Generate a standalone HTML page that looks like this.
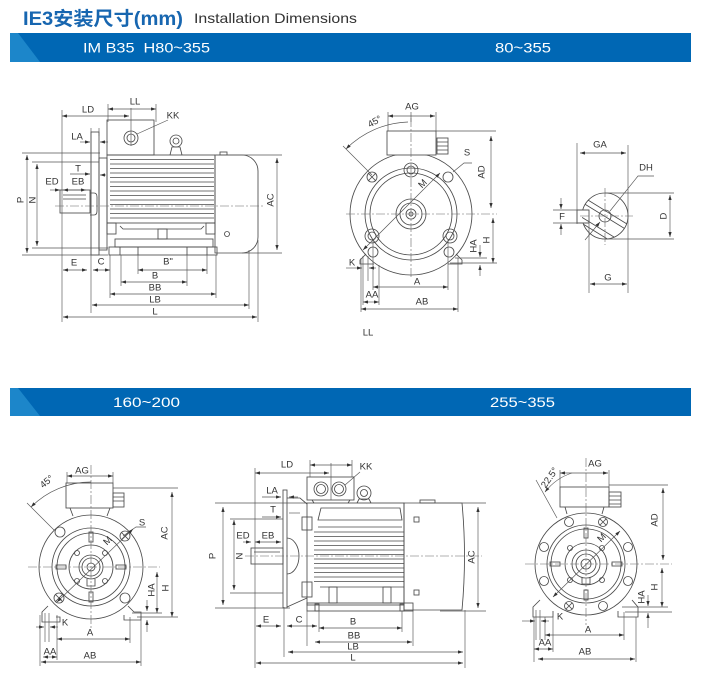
<!DOCTYPE html>
<html><head><meta charset="utf-8">
<style>
html,body{margin:0;padding:0;background:#fff;}
svg{display:block;}
.o{fill:none;stroke:#4a4a4a;stroke-width:.85}
.d{fill:none;stroke:#555;stroke-width:.65}
.b{fill:none;stroke:#555;stroke-width:.65;marker-start:url(#a);marker-end:url(#a)}
.e{fill:none;stroke:#555;stroke-width:.65;marker-end:url(#a)}
.c{fill:none;stroke:#666;stroke-width:.6;stroke-dasharray:9 2 2 2}
.t{font-family:"Liberation Sans",sans-serif;font-size:9.5px;fill:#333;text-anchor:middle;dominant-baseline:central}
</style></head><body>
<svg width="701" height="675" viewBox="0 0 701 675" xmlns="http://www.w3.org/2000/svg">
<defs>
<marker id="a" viewBox="0 0 6 4" refX="6" refY="2" markerWidth="5" markerHeight="3.4" markerUnits="userSpaceOnUse" orient="auto-start-reverse"><path d="M0,0L6,2L0,4z" fill="#333"/></marker>
<clipPath id="cp"><circle cx="605" cy="216" r="23"/></clipPath>
</defs>

<!-- Header -->
<text x="23" y="25" font-family="Liberation Sans, Noto Sans CJK SC, sans-serif" font-size="19" font-weight="bold" fill="#1766b0" textLength="160" lengthAdjust="spacingAndGlyphs">IE3安装尺寸(mm)</text>
<text x="194" y="23" font-family="Liberation Sans, sans-serif" font-size="14" fill="#333" textLength="163" lengthAdjust="spacingAndGlyphs">Installation Dimensions</text>

<rect x="10" y="33" width="681" height="29" fill="#0067b4"/>
<polygon points="10,33 18,33 40,62 10,62" fill="#1c86ca"/>
<text x="83" y="52.5" xml:space="preserve" font-family="Liberation Sans, sans-serif" font-size="13.5" fill="#fff" textLength="127" lengthAdjust="spacingAndGlyphs">IM B35  H80~355</text>
<text x="495" y="52.5" font-family="Liberation Sans, sans-serif" font-size="13.5" fill="#fff" textLength="56" lengthAdjust="spacingAndGlyphs">80~355</text>

<rect x="10" y="388" width="681" height="28" fill="#0067b4"/>
<polygon points="10,388 18,388 40,416 10,416" fill="#1c86ca"/>
<text x="113" y="407" font-family="Liberation Sans, sans-serif" font-size="13.5" fill="#fff" textLength="67" lengthAdjust="spacingAndGlyphs">160~200</text>
<text x="490" y="407" font-family="Liberation Sans, sans-serif" font-size="13.5" fill="#fff" textLength="65" lengthAdjust="spacingAndGlyphs">255~355</text>

<!-- ================= Drawing 1: side view ================= -->
<g class="o">
<rect x="107" y="120" width="47" height="35"/>
<circle cx="131" cy="138" r="7"/><circle cx="131" cy="138" r="4"/>
<circle cx="176" cy="141" r="6"/><circle cx="176" cy="141" r="3"/>
<path d="M170,155 L172,147 H180 L182,155"/>
<rect x="107" y="155" width="108" height="68"/>
<path d="M110,159.5H214 M110,164H214 M110,168.5H214 M110,173H214 M110,177.5H214 M110,182H214 M110,186.5H214 M110,191H214 M110,195.5H214 M110,200H214 M110,204.5H214 M110,209H214 M110,213.5H214 M110,218H214"/>
<path d="M215,155 H242 A16,16 0 0 1 258,171 V237 A16,16 0 0 1 242,253 H215 Z"/>
<circle cx="227" cy="234" r="2.5"/>
<rect x="220" y="152" width="7" height="3"/>
<rect x="91" y="132" width="8" height="123"/>
<rect x="99" y="158" width="8" height="92"/>
<rect x="60" y="190" width="30" height="23"/>
<path d="M63,195H86 M63,199H86"/>
<path d="M90,193 h4 q3,0 3,4 v14 q0,4 -3,4 h-4"/>
<rect x="107" y="223" width="9" height="11"/>
<rect x="206" y="223" width="9" height="11"/>
<path d="M120,226 L123,229 H201 L204,226"/>
<rect x="158" y="229" width="9" height="10"/>
<rect x="115" y="239" width="98" height="8"/>
<rect x="109" y="247" width="108" height="8"/>
<path d="M120,247V255 M138,247V255 M187,247V255 M207,247V255"/>
</g>
<path class="c" d="M55,206H264"/>
<g>
<path class="b" d="M108,109H156"/>
<path class="b" d="M62,116H129"/>
<path class="d" d="M108,104V122 M156,104V122 M131,108V146 M62,110V322 M91,128V313 M99,128V136"/>
<path class="d" d="M168,120 L137,134"/>
<path class="e" d="M80,142H90"/>
<path class="e" d="M108,142H100"/>
<path class="e" d="M70,174H90"/>
<path class="e" d="M106,175H100"/>
<path class="e" d="M50,190H60"/>
<path class="b" d="M63,190H86"/>
<path class="b" d="M27,155V253"/>
<path class="b" d="M37,164V246"/>
<path class="d" d="M22,153H100 M22,255H108 M32,162H99 M32,248H108"/>
<path class="b" d="M277,158V250"/>
<path class="d" d="M216,155H282 M242,253H282"/>
<path class="b" d="M63,270H87"/>
<path class="b" d="M93,270H110"/>
<path class="b" d="M138,270H207"/>
<path class="b" d="M121,282H187"/>
<path class="b" d="M110,294H216"/>
<path class="b" d="M92,305H249"/>
<path class="b" d="M63,317H257"/>
<path class="d" d="M110,255V298 M121,255V286 M138,255V274 M187,255V286 M207,255V274 M216,255V298 M249,250V309 M258,240V322"/>
</g>
<g class="t">
<text x="135" y="102">LL</text>
<text x="88" y="110">LD</text>
<text x="173" y="116">KK</text>
<text x="77" y="137">LA</text>
<text x="78" y="169">T</text>
<text x="52" y="182">ED</text>
<text x="78" y="182">EB</text>
<text x="21" y="200" transform="rotate(-90 21 200)">P</text>
<text x="33" y="200" transform="rotate(-90 33 200)">N</text>
<text x="271" y="200" transform="rotate(-90 271 200)">AC</text>
<text x="74" y="263">E</text>
<text x="101" y="262">C</text>
<text x="168" y="262">B"</text>
<text x="155" y="276">B</text>
<text x="155" y="288">BB</text>
<text x="155" y="300">LB</text>
<text x="155" y="312">L</text>
</g>

<!-- ================= Drawing 2: front view 80~355 ================= -->
<g class="o">
<circle cx="411" cy="214" r="61"/>
<circle cx="411" cy="214" r="46"/>
<circle cx="411" cy="214" r="41"/>
<circle cx="411" cy="214" r="15"/>
<circle cx="411" cy="214" r="11"/>
<circle cx="411" cy="214" r="5"/>
<circle cx="411" cy="214" r="2"/>
<circle cx="411" cy="170" r="7"/><circle cx="411" cy="170" r="4"/>
<circle cx="372" cy="236" r="7"/><circle cx="372" cy="236" r="4"/>
<circle cx="450" cy="236" r="7"/><circle cx="450" cy="236" r="4"/>
<circle cx="448" cy="177" r="5"/>
<circle cx="373" cy="252" r="5"/>
<circle cx="449" cy="252" r="5"/>
<circle cx="372" cy="177" r="5"/>
<path d="M368,173 L376,181 M376,173 L368,181"/>
<rect x="387" y="131" width="49" height="24" fill="#fff"/>
<rect x="437" y="138" width="11" height="16"/>
<path d="M437,142H448 M437,146H448 M437,150H448"/>
<path d="M366,254 L360,260 V264 H374"/>
<path d="M456,254 L462,260 V264 H448"/>
</g>
<path class="c" d="M346,214H497 M411,118V278"/>
<g>
<path class="b" d="M388,116H435"/>
<path class="d" d="M388,112V131 M436,112V131 M411,112V122 M436,131H496"/>
<path class="e" d="M408,122 A92,92 0 0 0 346,149"/>
<path class="d" d="M343,146 L372,175"/>
<path class="b" d="M491,136V208"/>
<path class="b" d="M493,218V263"/>
<path class="e" d="M480,245V257"/>
<path class="e" d="M480,276V265"/>
<path class="d" d="M455,258H487 M450,263H497"/>
<path class="d" d="M453,172 L464,163 H472"/>
<path class="b" d="M363,250 L440,173"/>
<path class="d" d="M363,256V281 M368,256V281"/>
<path class="e" d="M346,268H362"/>
<path class="e" d="M376,268H369"/>
<path class="b" d="M373,287H448"/>
<path class="d" d="M373,240V290 M448,240V290"/>
<path class="b" d="M363,302H379"/>
<path class="d" d="M379,265V305 M363,281V305"/>
<path class="b" d="M361,309H458"/>
<path class="d" d="M361,258V312 M458,258V312"/>
</g>
<g class="t">
<text x="412" y="107">AG</text>
<text x="375" y="122" transform="rotate(-30 375 122)">45°</text>
<text x="467" y="153">S</text>
<text x="423" y="184" transform="rotate(-45 423 184)">M</text>
<text x="482" y="172" transform="rotate(-90 482 172)">AD</text>
<text x="487" y="240" transform="rotate(-90 487 240)">H</text>
<text x="474" y="246" transform="rotate(-90 474 246)">HA</text>
<text x="352" y="263">K</text>
<text x="417" y="282">A</text>
<text x="372" y="295">AA</text>
<text x="422" y="302">AB</text>
<text x="368" y="333">LL</text>
</g>

<!-- ================= Drawing 3: shaft section ================= -->
<g class="o">
<circle cx="605" cy="216" r="23"/>
<circle cx="605" cy="216" r="6"/>
<rect x="577" y="210" width="12" height="13" fill="#fff"/>
<g clip-path="url(#cp)">
<path d="M570,189 L640,232 M570,195 L640,238 M570,210 L640,253 M570,216 L640,259"/>
</g>
</g>
<path class="c" d="M580,216H633 M605,188V245"/>
<g>
<path class="b" d="M580,153H626"/>
<path class="d" d="M577,143V224 M628,145V293"/>
<path class="d" d="M610,211 L638,176 H654"/>
<path class="e" d="M585,240 L600,222"/>
<path class="b" d="M670,195V237"/>
<path class="d" d="M605,193H674 M605,239H674"/>
<path class="d" d="M553,210H589 M553,223H589"/>
<path class="e" d="M561,198V209"/>
<path class="e" d="M561,235V224"/>
<path class="b" d="M590,284H627"/>
<path class="d" d="M589,223V293"/>
</g>
<g class="t">
<text x="600" y="145">GA</text>
<text x="646" y="168">DH</text>
<text x="664" y="216" transform="rotate(-90 664 216)">D</text>
<text x="562" y="217">F</text>
<text x="608" y="278">G</text>
</g>

<!-- ================= Drawing 4: front view 160~200 ================= -->
<g class="o">
<circle cx="91" cy="567" r="52"/>
<circle cx="91" cy="567" r="39"/>
<circle cx="91" cy="567" r="34"/>
<circle cx="91" cy="567" r="22"/>
<circle cx="91" cy="567" r="12"/>
<circle cx="91" cy="567" r="9"/>
<circle cx="91" cy="567" r="4"/>
<circle cx="60" cy="532" r="5"/>
<circle cx="125" cy="536" r="5"/>
<path d="M121.5,532.5 L128.5,539.5 M128.5,532.5 L121.5,539.5"/>
<circle cx="59" cy="598" r="5"/>
<path d="M55.5,594.5 L62.5,601.5 M62.5,594.5 L55.5,601.5"/>
<circle cx="125" cy="598" r="5"/>
<rect x="89" y="532" width="4" height="10"/>
<rect x="89" y="592" width="4" height="10"/>
<rect x="56" y="565" width="10" height="4"/>
<rect x="116" y="565" width="10" height="4"/>
<circle cx="77" cy="553" r="2.5"/><circle cx="105" cy="553" r="2.5"/>
<circle cx="77" cy="581" r="2.5"/><circle cx="105" cy="581" r="2.5"/>
<path d="M87,579 V586 H95 V579"/>
<rect x="66" y="483" width="47" height="25" fill="#fff"/>
<path d="M70,508 L73,516 M110,508 L107,516"/>
<rect x="113" y="493" width="11" height="14"/>
<path d="M113,497H124 M113,501H124"/>
<path d="M48,606 L42,612 V622 H60 V617 H56"/>
<path d="M128,606 L134,612 H141 V620 H124 V615"/>
</g>
<path class="c" d="M28,567H160 M91,465V628"/>
<g>
<path class="b" d="M67,476H113"/>
<path class="d" d="M67,472V483 M113,472V483 M113,488H178"/>
<path class="e" d="M91,482 A85,85 0 0 0 31,507"/>
<path class="d" d="M27,503 L54,530"/>
<path class="b" d="M172,492V617"/>
<path class="d" d="M137,617H178 M132,613H162"/>
<path class="b" d="M157,572V613"/>
<path class="e" d="M147,600V611"/>
<path class="e" d="M147,632V620"/>
<path class="d" d="M123,536 L136,527 H146"/>
<path class="b" d="M57,602 L133,529"/>
<path class="d" d="M45,613V642 M49,613V642"/>
<path class="e" d="M36,627H44"/>
<path class="e" d="M58,627H50"/>
<path class="b" d="M57,639H130"/>
<path class="d" d="M57,615V660 M130,617V643"/>
<path class="b" d="M43,657H57"/>
<path class="b" d="M41,662H141"/>
<path class="d" d="M40,615V666 M141,616V666"/>
</g>
<g class="t">
<text x="82" y="471">AG</text>
<text x="47" y="482" transform="rotate(-40 47 482)">45°</text>
<text x="142" y="523">S</text>
<text x="108" y="541" transform="rotate(-45 108 541)">M</text>
<text x="165" y="533" transform="rotate(-90 165 533)">AC</text>
<text x="166" y="588" transform="rotate(-90 166 588)">H</text>
<text x="152" y="590" transform="rotate(-90 152 590)">HA</text>
<text x="65" y="623">K</text>
<text x="90" y="633">A</text>
<text x="50" y="652">AA</text>
<text x="90" y="656">AB</text>
</g>

<!-- ================= Drawing 5: side view 255~355 ================= -->
<g class="o">
<rect x="307" y="477" width="47" height="23"/>
<circle cx="321" cy="489" r="7"/><circle cx="321" cy="489" r="4.5"/>
<circle cx="339" cy="489" r="7"/><circle cx="339" cy="489" r="4.5"/>
<circle cx="364" cy="493" r="7"/><circle cx="364" cy="493" r="3.5"/>
<path d="M357,503 L359,499 H369 L371,503"/>
<path d="M312,500 L314,503 M350,500 L348,503"/>
<rect x="307" y="503" width="97" height="102"/>
<path d="M318,520 L321,508 H400 L402,520 Z"/>
<path d="M318,527H402"/>
<path d="M314,532H404 M314,536.5H404 M314,541H404 M314,545.5H404 M314,550H404 M314,554.5H404 M314,559H404 M314,563.5H404 M314,568H404 M314,572.5H404 M314,577H404 M314,581.5H404"/>
<path d="M320,587H404"/>
<rect x="302" y="517" width="10" height="13"/>
<rect x="302" y="582" width="10" height="15"/>
<rect x="329" y="587" width="8" height="16"/>
<rect x="383" y="587" width="8" height="16"/>
<rect x="307" y="603" width="106" height="8"/>
<rect x="315" y="604" width="4" height="7"/>
<rect x="400" y="604" width="4" height="7"/>
<path d="M404,503 H462 Q467,556 462,610 H404 Z"/>
<rect x="420" y="500" width="15" height="3"/>
<rect x="414" y="517" width="5" height="5"/>
<rect x="414" y="590" width="5" height="5"/>
<rect x="283" y="490" width="4" height="118"/>
<path d="M287,498 H300 L307,504 M287,607 L307,598"/>
<rect x="251" y="548" width="32" height="16"/>
<path d="M254,552H280"/>
<path d="M287,538 A12,18 0 0 1 287,574"/>
</g>
<path class="c" d="M245,556H482"/>
<g>
<path class="b" d="M255,473H329"/>
<path class="b" d="M310,465H352"/>
<path class="d" d="M310,460V477 M352,460V477 M331,463V500"/>
<path class="d" d="M360,472 L345,485"/>
<path class="e" d="M262,497H281"/>
<path class="e" d="M298,497H289"/>
<path class="e" d="M262,517H281"/>
<path class="d" d="M289,513H300"/>
<path class="e" d="M243,542H251"/>
<path class="b" d="M255,542H281"/>
<path class="b" d="M223,507V605"/>
<path class="b" d="M234,520V590"/>
<path class="d" d="M215,503H307 M215,608H290 M230,519H283 M230,593H283"/>
<path class="b" d="M478,507V608"/>
<path class="d" d="M435,503H486 M440,611H486"/>
<path class="b" d="M256,626H281"/>
<path class="b" d="M287,626H317"/>
<path class="b" d="M319,628H402"/>
<path class="b" d="M315,642H412"/>
<path class="b" d="M288,652H463"/>
<path class="b" d="M256,663H463"/>
<path class="d" d="M255,468V668 M284,607V657 M307,611V646 M319,611V632 M402,611V632 M413,611V646 M465,610V668"/>
</g>
<g class="t">
<text x="287" y="465">LD</text>
<text x="366" y="467">KK</text>
<text x="272" y="491">LA</text>
<text x="273" y="510">T</text>
<text x="243" y="536">ED</text>
<text x="268" y="536">EB</text>
<text x="213" y="556" transform="rotate(-90 213 556)">P</text>
<text x="240" y="556" transform="rotate(-90 240 556)">N</text>
<text x="472" y="557" transform="rotate(-90 472 557)">AC</text>
<text x="266" y="620">E</text>
<text x="299" y="620">C</text>
<text x="353" y="622">B</text>
<text x="354" y="636">BB</text>
<text x="353" y="647">LB</text>
<text x="353" y="658">L</text>
</g>

<!-- ================= Drawing 6: front view 255~355 ================= -->
<g class="o">
<circle cx="586" cy="564" r="51"/>
<circle cx="586" cy="564" r="39"/>
<circle cx="586" cy="564" r="35"/>
<circle cx="586" cy="564" r="21"/>
<circle cx="586" cy="564" r="14"/>
<circle cx="586" cy="564" r="10"/>
<circle cx="586" cy="564" r="5"/>
<circle cx="569" cy="522" r="4.5"/>
<circle cx="603" cy="522" r="4.5"/>
<path d="M600,519 L606,525 M606,519 L600,525"/>
<circle cx="544" cy="547" r="4.5"/>
<circle cx="628" cy="547" r="4.5"/>
<circle cx="544" cy="581" r="4.5"/>
<circle cx="628" cy="581" r="4.5"/>
<circle cx="569" cy="606" r="4.5"/>
<path d="M566,603 L572,609 M572,603 L566,609"/>
<circle cx="603" cy="606" r="4.5"/>
<rect x="584" y="528" width="4" height="10"/>
<rect x="584" y="590" width="4" height="10"/>
<rect x="550" y="562" width="10" height="4"/>
<rect x="612" y="562" width="10" height="4"/>
<circle cx="570" cy="548" r="2.5"/><circle cx="602" cy="548" r="2.5"/>
<circle cx="570" cy="580" r="2.5"/><circle cx="602" cy="580" r="2.5"/>
<path d="M582,577 V584 H590 V577"/>
<rect x="560" y="487" width="49" height="20" fill="#fff"/>
<path d="M565,507 L567,514 M604,507 L602,514"/>
<rect x="609" y="492" width="12" height="15"/>
<path d="M609,496H621 M609,500H621 M609,504H621"/>
<path d="M540,600 L533,607 V617 H553 V611"/>
<path d="M632,600 L638,607 V617 H618 V611"/>
</g>
<path class="c" d="M525,564H672 M586,458V625"/>
<g>
<path class="b" d="M560,473H608"/>
<path class="d" d="M560,470V487 M609,470V487 M609,485H668"/>
<path class="e" d="M572,473 Q556,478 545,492"/>
<path class="d" d="M536,480 L557,518"/>
<path class="b" d="M663,488V560"/>
<path class="b" d="M662,568V607"/>
<path class="e" d="M648,595V606"/>
<path class="e" d="M648,628V613"/>
<path class="d" d="M622,607H668 M625,612H672"/>
<path class="b" d="M553,597 L620,531"/>
<path class="d" d="M536,610V640 M540,610V640"/>
<path class="e" d="M522,621H535"/>
<path class="e" d="M549,621H541"/>
<path class="b" d="M545,635H624"/>
<path class="b" d="M534,649H553"/>
<path class="b" d="M538,659H635"/>
<path class="d" d="M534,617V662 M636,617V662 M545,617V640 M553,617V652 M624,612V640"/>
</g>
<g class="t">
<text x="595" y="464">AG</text>
<text x="550" y="478" transform="rotate(-55 550 478)">22.5°</text>
<text x="602" y="538" transform="rotate(-45 602 538)">M</text>
<text x="655" y="520" transform="rotate(-90 655 520)">AD</text>
<text x="655" y="587" transform="rotate(-90 655 587)">H</text>
<text x="642" y="597" transform="rotate(-90 642 597)">HA</text>
<text x="560" y="617">K</text>
<text x="588" y="630">A</text>
<text x="545" y="643">AA</text>
<text x="585" y="652">AB</text>
</g>
</svg>
</body></html>
